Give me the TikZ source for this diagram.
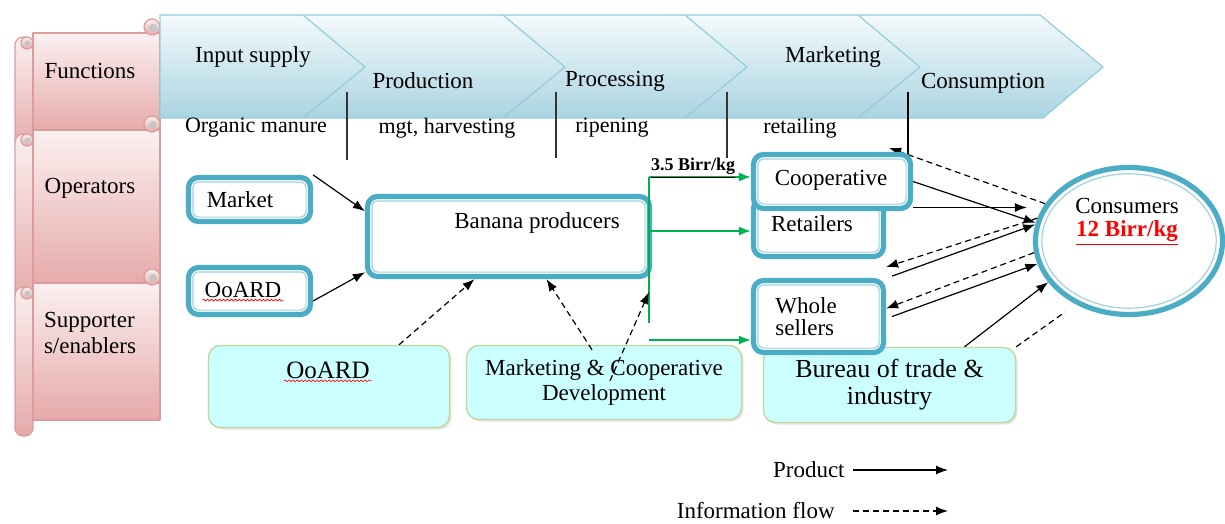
\documentclass[tikz,border=0pt]{standalone}
\usepackage{fontspec}
\setmainfont{Liberation Serif}
\usetikzlibrary{shapes.geometric,arrows.meta,shadows,decorations.pathmorphing,backgrounds}

\definecolor{tealc}{HTML}{4BACC6}
\definecolor{tealL}{HTML}{9FD2E0}
\definecolor{pinktop}{HTML}{FBF0F0}
\definecolor{pinkbot}{HTML}{E6A9A9}
\definecolor{pinkline}{HTML}{DD9C9C}
\definecolor{chevtop}{HTML}{F4FAFC}
\definecolor{chevbot}{HTML}{AAD4E1}
\definecolor{chevline}{HTML}{92CDDC}
\definecolor{supfill}{HTML}{CCFFFF}
\definecolor{supline}{HTML}{C3D69B}
\definecolor{grnc}{HTML}{00B050}

\tikzset{
  opbox/.style={draw=tealc, line width=2.6pt, rounded corners=5pt, fill=white, inner sep=0pt},
  rim/.style={draw=tealL, line width=0.6pt, rounded corners=3pt},
  supbox/.style={draw=supline, fill=supfill, line width=0.7pt, rounded corners=6pt, inner sep=0pt,
    drop shadow={shadow xshift=1pt, shadow yshift=-1pt, fill=black!22}},
  scroll/.style={draw=pinkline, line width=0.6pt, top color=pinktop, bottom color=pinkbot},
  chevl/.style={draw=chevline, line width=0.6pt},
  prod/.style={-{Latex[length=6pt,width=4.5pt]}, line width=0.6pt},
  info/.style={prod, dash pattern=on 3pt off 2pt},
  grn/.style={draw=grnc, line width=0.8pt},
  squig/.style={draw=red, line width=0.3pt, decorate, decoration={snake, segment length=2pt, amplitude=0.5pt}}
}
%thin light rim inside an operator box
\newcommand{\inrim}[1]{\draw[rim] ([shift={(3.5pt,3.5pt)}]#1.south west) rectangle ([shift={(-3.5pt,-3.5pt)}]#1.north east);}

\begin{document}
\begin{tikzpicture}[x=0.5pt,y=-0.5pt,line join=round,
    every node/.style={font=\fontsize{11.5}{13}\selectfont, inner sep=1pt}]
\useasboundingbox (0,0) rectangle (1225,524);

%scroll banners on the left
\foreach \t/\b in {33/133, 130/286, 283/420}{
  \draw[scroll, rounded corners=4pt] (15,\t+4) rectangle (33,\b+16);
  \draw[scroll] (33,\t) rectangle (160,\b);
  \draw[scroll] (152,\t-6) circle (4pt);
  \fill[gray!45] (153,\t-5) circle (2pt);
  \draw[scroll] (27,\t+10) circle (3pt);
  \fill[gray!45] (27.5,\t+10.5) circle (1.5pt);
}
\node (fn) at (90,71) {Functions};
\node (op) at (90,188) {Operators};
\node[align=left] (su) at (90,333) {Supporter\\s/enablers};

%chevron band of the functions
\draw[chevl, top color=chevtop, bottom color=chevbot]
  (160,15) -- (1040,15) -- (1103,67) -- (1043,118) -- (160,118) -- cycle;
\foreach \tip in {365,565,747,920}
  \draw[chevl] (\tip-62,15) -- (\tip,67) -- (\tip-62,118);
\node (is) at (253,57) {Input supply};
\node (pd) at (423,81) {Production};
\node (pc) at (615,81) {Processing};
\node (mkt) at (833,57) {Marketing};
\node (cs) at (983,83) {Consumption};

\node[font=\fontsize{11}{13}\selectfont] (om) at (256,128) {Organic manure};
\node[font=\fontsize{11}{13}\selectfont] (mh) at (447,128) {mgt, harvesting};
\node[font=\fontsize{11}{13}\selectfont] (rp) at (612,128) {ripening};
\node[font=\fontsize{11}{13}\selectfont] (rt) at (800,128) {retailing};

%separators
\draw[black!80, line width=0.6pt] (347,92) -- (347,160);
\draw[black!80, line width=0.6pt] (556,92) -- (556,158);
\draw[black!80, line width=0.6pt] (727,92) -- (727,158);
\draw[black, line width=0.6pt] (908,92) -- (908,157);

%supporters
\node[supbox, minimum width=120.5pt, minimum height=41pt] (sOA) at (329,386.5) {};
\node[font=\fontsize{12.5}{13}\selectfont] (sOAt) at (328,370) {OoARD};
\draw[squig] (sOAt.south west) -- (sOAt.south east);
\node[supbox, minimum width=137.5pt, minimum height=37pt, align=center,
      font=\fontsize{11.5}{12.5}\selectfont] (sMC) at (604,382.5)
      {Marketing \& Cooperative\\Development};
\node[supbox, minimum width=126pt, minimum height=37.5pt, align=center,
      font=\fontsize{13}{13.5}\selectfont] (sBT) at (889.5,385)
      {Bureau of trade \&\\industry};

%operators
\node[opbox, minimum width=61pt, minimum height=22pt] (mk) at (249.5,199.5) {};
\inrim{mk}
\node (mkt2) at (240,200) {Market};
\node[opbox, minimum width=61pt, minimum height=23.5pt] (oa) at (249.5,291) {};
\inrim{oa}
\node (oat) at (243,290) {OoARD};
\draw[squig] (oat.south west) -- (oat.south east);
\node[opbox, minimum width=141pt, minimum height=40pt] (bp) at (508.5,236.5) {};
\inrim{bp}
\node (bpt) at (537,223) {Banana producers};
\node[opbox, minimum width=65pt, minimum height=29pt] (re) at (818.5,227.5) {};
\inrim{re}
\node (ret) at (812,224) {Retailers};
\node[opbox, minimum width=78.5pt, minimum height=27pt] (co) at (832,181.5) {};
\inrim{co}
\node (cot) at (831,180) {Cooperative};
\node[opbox, minimum width=65pt, minimum height=36pt] (ws) at (818.5,316.5) {};
\inrim{ws}
\node[align=left, anchor=west, font=\fontsize{11.5}{11}\selectfont] (wst) at (773,317) {Whole\\sellers};
\node[ellipse, draw=tealc, line width=2.6pt, fill=white, minimum width=93.5pt, minimum height=73.5pt] (cons) at (1129,241) {};
\draw[tealL, line width=0.6pt] (cons.center) ellipse [x radius=43.6pt, y radius=33.6pt];
\node[align=center, font=\fontsize{11.5}{11.5}\selectfont] (const) at (1127,221.5)
  {Consumers\\\textcolor{red}{\underline{\textbf{12 Birr/kg}}}};

%product flow from producers
\coordinate (gtop) at (649,177);
\coordinate (gmid) at (649,231);
\coordinate (gbot) at (649,323);
\coordinate (glow) at (649,340);
\draw[grn] (gbot) -- (gtop);
\draw[grn, -{Latex[length=6pt,width=4.5pt]}] (gtop) -- (gtop -| co.west);
\draw[grn, -{Latex[length=6pt,width=4.5pt]}] (gmid) -- (gmid -| re.west);
\draw[grn, -{Latex[length=6pt,width=4.5pt]}] (glow) -- (glow -| ws.west);
\node[font=\fontsize{9}{10}\selectfont] (pr1) at (693,168) {\underline{\textbf{3.5 Birr/kg}}};

\draw[prod] (mk.north east) -- (bp.170);
\draw[prod] ([yshift=-5pt]oa.east) -- (bp.194);
\draw[prod] (co.east) -- (cons.169);
\draw[prod, shorten >=3pt] ([yshift=-13pt]co.east) -- ([yshift=-13pt]co.east -| cons.west);
\draw[prod] ([xshift=3pt,yshift=-8.5pt]re.south east) -- (cons.170);
\draw[prod] ([xshift=3pt]ws.east) -- (cons.194);
\draw[prod] ([xshift=37.5pt]sBT.north) -- (cons.207);

%information flow
\begin{scope}[on background layer]
\draw[info] (cons.156) -- ([xshift=-12pt,yshift=2pt]co.north east);
\end{scope}
\draw[info] (cons.166) -- ([yshift=-4pt]re.south east);
\draw[info] (cons.187) -- ([yshift=4pt]ws.east);
\draw[dash pattern=on 3pt off 2pt, line width=0.6pt, shorten >=6.5pt] (sBT.north east) -- (cons.230);
\draw[info] ([xshift=35pt]sOA.north) -- ([xshift=-17pt]bp.south);
\draw[info] ([xshift=-6pt,yshift=-2.5pt]sMC.north) -- ([xshift=19pt]bp.south);
\draw[info] ([xshift=3pt,yshift=-18pt]sMC.north) -- ([yshift=15.5pt]gbot);

%legend
\node[anchor=east] (lp) at (847,470) {Product};
\coordinate (lpe) at (948,470);
\draw[prod] ([xshift=3pt]lp.east) -- (lpe);
\node[anchor=east] (li) at (837,511) {Information flow};
\coordinate (lie) at (948,511);
\draw[info] ([xshift=8pt]li.east) -- (lie);
\end{tikzpicture}
\end{document}
